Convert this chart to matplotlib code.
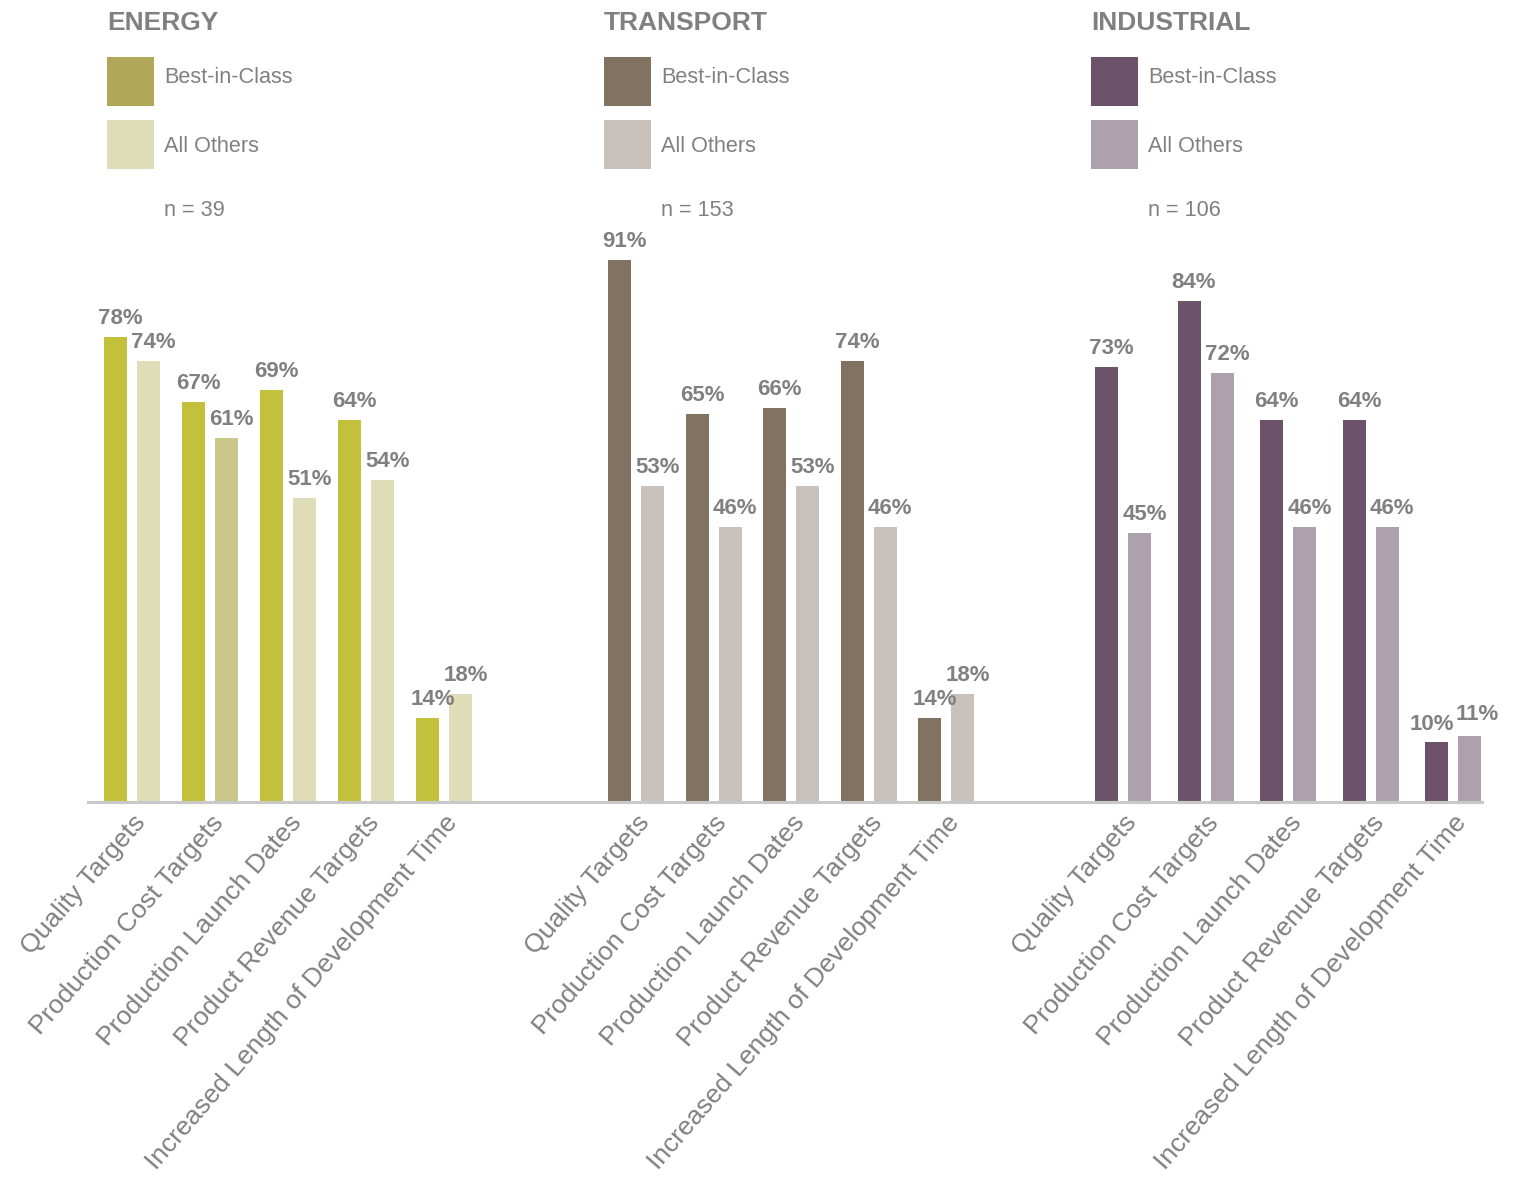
import numpy as np
import matplotlib.pyplot as plt
from matplotlib.patches import Rectangle
from matplotlib.lines import Line2D

plt.rcParams['font.family'] = ['Liberation Sans', 'DejaVu Sans']

W, H = 1516, 1180

categories = ["Quality Targets", "Production Cost Targets", "Production Launch Dates",
              "Product Revenue Targets", "Increased Length of Development Time"]
series_names = ["Best-in-Class", "All Others"]

titles = ["ENERGY", "TRANSPORT", "INDUSTRIAL"]
sample_sizes = [39, 153, 106]

energy_best = [78, 67, 69, 64, 14]
energy_others = [74, 61, 51, 54, 18]
transport_best = [91, 65, 66, 74, 14]
transport_others = [53, 46, 53, 46, 18]
industrial_best = [73, 84, 64, 64, 10]
industrial_others = [45, 72, 46, 46, 11]

best = [energy_best, transport_best, industrial_best]
others = [energy_others, transport_others, industrial_others]

# layout in pixels: first group centre, group spacing, left edge of header
group_x0 = [132, 636, 1123]
group_step = [78, 77.6, 82.5]
header_x = [107, 604, 1091]

best_colors = ["#c3c13c", "#827261", "#6c5369"]
other_colors = [["#dfdcb8", "#c9c78a", "#dfdcb8", "#dfdcb8", "#dfdcb8"],
                ["#c9c1bb"] * 5,
                ["#ada1ae"] * 5]
swatch_colors = [("#b0a858", "#dfdcb8"), ("#827261", "#c9c1bb"), ("#6c5369", "#ada1ae")]

gray = "#808080"
baseline_px = 801
px_per_pct = 5.95


def fx(x):
    return x / W


def fy(y):
    return 1 - y / H


fig = plt.figure(figsize=(W / 100, H / 100), dpi=100)

for p in range(3):
    s = group_step[p]
    c0 = group_x0[p]
    ax = fig.add_axes([fx(c0 - 0.5 * s), fy(baseline_px), 5 * s / W, 100 * px_per_pct / H])
    ax.patch.set_alpha(0)
    x = np.arange(len(categories))
    d = 16.5 / s
    w = 23 / s
    b1 = ax.bar(x - d, best[p], width=w, color=best_colors[p])
    b2 = ax.bar(x + d, others[p], width=w, color=other_colors[p])
    ax.set_xlim(-0.5, 4.5)
    ax.set_ylim(0, 100)
    for sp in ax.spines.values():
        sp.set_visible(False)
    ax.set_yticks([])
    ax.set_xticks(x)
    ax.set_xticklabels(categories, rotation=49, ha='right', va='top',
                       rotation_mode='anchor', fontsize=19, color=gray)
    ax.tick_params(axis='x', length=0, pad=7)

    for bars in (b1, b2):
        for r in bars:
            val = r.get_height()
            dx, dy = 5, 13
            if p == 2 and bars is b1 and val == 10:
                dx, dy = -5, 11
            if p == 2 and bars is b2 and val == 11:
                dx, dy = 8, 16
            ax.annotate(f"{val:.0f}%", (r.get_x() + r.get_width() / 2, val),
                        xytext=(dx, dy), textcoords='offset pixels',
                        ha='center', va='baseline', fontsize=16,
                        fontweight='bold', color=gray)

    # header: title, legend swatches, sample size
    hx = header_x[p]
    fig.text(fx(hx), fy(30), titles[p], fontsize=19, fontweight='bold',
             color=gray, va='baseline', ha='left')
    for k, (top, base) in enumerate([(57, 83), (120, 152)]):
        fig.add_artist(Rectangle((fx(hx), fy(top + 49)), 47 / W, 49 / H,
                                 transform=fig.transFigure,
                                 facecolor=swatch_colors[p][k], edgecolor='none'))
        fig.text(fx(hx + 57), fy(base), series_names[k], fontsize=15.6,
                 color=gray, va='baseline', ha='left')
    fig.text(fx(hx + 57), fy(216), f"n = {sample_sizes[p]}", fontsize=15.6,
             color=gray, va='baseline', ha='left')

fig.add_artist(Line2D([fx(88), fx(1482)], [fy(802), fy(802)],
                      transform=fig.transFigure, color="#c8c8c8", linewidth=2.2))

fig.savefig("out.png", dpi=100)
